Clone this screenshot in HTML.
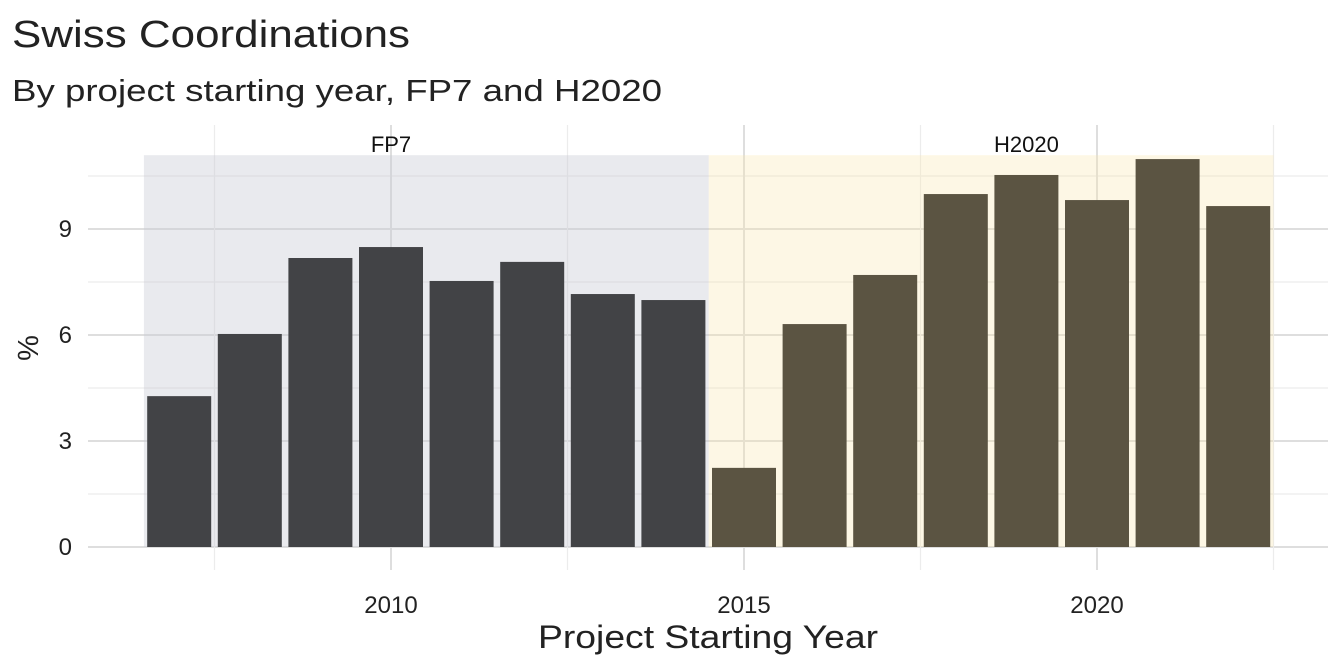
<!DOCTYPE html>
<html><head><meta charset="utf-8"><style>
body{margin:0;background:#fff;}
svg{display:block;font-family:"Liberation Sans",sans-serif;}
</style></head><body>
<svg id="chart" width="1344" height="672">
<text x="12" y="47" font-size="38" textLength="398" lengthAdjust="spacingAndGlyphs" fill="#222">Swiss Coordinations</text>
<text x="12" y="101" font-size="31" textLength="650" lengthAdjust="spacingAndGlyphs" fill="#222">By project starting year, FP7 and H2020</text>
<g id="grid"></g>
<g id="panels"></g>
<g id="bars"></g>
<g id="axes"></g>
<text x="708" y="648" font-size="32" textLength="340" lengthAdjust="spacingAndGlyphs" fill="#222" text-anchor="middle">Project Starting Year</text>
<text transform="translate(38,348) rotate(-90)" font-size="29" fill="#222" text-anchor="middle">%</text>
</svg>
<script>
const years=[2007,2008,2009,2010,2011,2012,2013,2014,2015,2016,2017,2018,2019,2020,2021,2022];
const values=[4.27,6.03,8.18,8.49,7.53,8.07,7.16,6.99,2.24,6.31,7.70,9.99,10.53,9.82,10.98,9.65];
const programmes=["FP7","FP7","FP7","FP7","FP7","FP7","FP7","FP7","H2020","H2020","H2020","H2020","H2020","H2020","H2020","H2020"];
const labelYears=[2010,2019];
const xTicks=[2010,2015,2020];
const yTicks=[0,3,6,9];
const NS="http://www.w3.org/2000/svg";
const x=v=>391+(v-2010)*70.6;
const y=v=>547-v*35.33;
const bw=64;
function mk(tag,attrs,parent){const e=document.createElementNS(NS,tag);for(const k in attrs)e.setAttribute(k,attrs[k]);parent.appendChild(e);return e;}
const grid=document.getElementById('grid'),panels=document.getElementById('panels'),bars=document.getElementById('bars'),axes=document.getElementById('axes');
for(let v=1.5;v<=10.5;v+=3){const l=mk('line',{x1:88,x2:1328,y1:y(v),y2:y(v),stroke:'#ececec','stroke-width':1.2},grid);

}
yTicks.forEach(t=>{const l=mk('line',{x1:88,x2:1328,y1:y(t),y2:y(t),stroke:'#dedede','stroke-width':2},grid);


const tx=mk('text',{x:72,y:y(t)+8,'font-size':24,fill:'#222','text-anchor':'end'},axes);tx.textContent=t;

});
for(let v=2007.5;v<=2022.5;v+=5){const l=mk('line',{x1:x(v),x2:x(v),y1:125,y2:570,stroke:'#ececec','stroke-width':1.2},grid);

}
xTicks.forEach(t=>{const l=mk('line',{x1:x(t),x2:x(t),y1:125,y2:570,stroke:'#dedede','stroke-width':2},grid);


const tx=mk('text',{x:x(t),y:613,'font-size':24,fill:'#222','text-anchor':'middle'},axes);tx.textContent=t;

});
const panelTop=y(Math.max(...values)*1.01);
const progs=[{n:'FP7',fill:'rgba(200,202,212,0.4)'},{n:'H2020',fill:'rgba(250,230,170,0.3)'}];
progs.forEach((p,pi)=>{const ys=years.filter((v,i)=>programmes[i]===p.n);const x0=x(Math.min(...ys)-0.5),x1=x(Math.max(...ys)+0.5);
const r=mk('rect',{x:x0,y:panelTop,width:x1-x0,height:y(0)-panelTop,fill:p.fill},panels);


const t=mk('text',{x:x(labelYears[pi]),y:152,'font-size':22,fill:'#111','text-anchor':'middle'},panels);t.textContent=p.n;

});
years.forEach((yr,i)=>{const r=mk('rect',{x:x(yr)-bw/2,y:y(values[i]),width:bw,height:y(0)-y(values[i]),fill:programmes[i]==='FP7'?'#424346':'#5b5442'},bars);

});
</script>
</body></html>
